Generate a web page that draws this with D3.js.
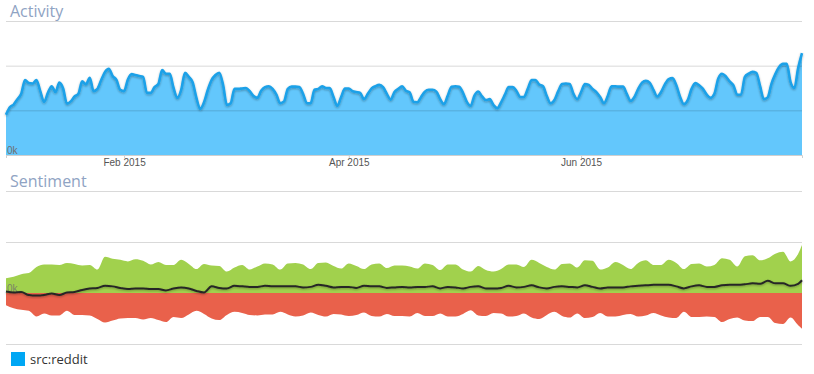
<!DOCTYPE html>
<html>
<head>
<meta charset="utf-8">
<script src="https://cdn.jsdelivr.net/npm/d3@7"></script>
<style>
    body { margin: 0; background: #fff; }
    svg { font-family: "Open Sans", sans-serif; }
    .title { fill: #8fa3c3; font-size: 16px; }
    .grid path { display: none; }
    .grid line { stroke: rgba(0, 0, 0, 0.15); }
    .grid text { fill: #6f6f6f; font-size: 10px; }
    .x-axis path, .x-axis line { stroke: #cfcfcf; }
    .x-axis text { fill: #555; font-size: 10px; }
    .legend text { fill: #333; font-size: 13px; }
</style>
</head>
<body>
<svg id="chart" width="814" height="374"></svg>
<script>
// data
var startDay = '2015-01-01';
var endDay = '2015-07-29';
var monthTicks = ['2015-02-01', '2015-04-01', '2015-06-01'];
var activityTicks = [0, 1, 2, 3];
var sentimentTicks = [-1, 0, 1, 2];
var seriesNames = ['src:reddit'];

// daily activity, in k, from Jan 1
var activity = [
    0.90, 1.07, 1.13, 1.25, 1.37, 1.68, 1.61, 1.60, 1.68, 1.43,
    1.19, 1.39, 1.54, 1.41, 1.62, 1.49, 1.15, 1.20, 1.31, 1.37,
    1.65, 1.58, 1.73, 1.43, 1.48, 1.68, 1.86, 1.93, 1.77, 1.68,
    1.46, 1.43, 1.69, 1.81, 1.79, 1.77, 1.75, 1.39, 1.39, 1.52,
    1.59, 1.90, 1.82, 1.82, 1.50, 1.28, 1.46, 1.84, 1.75, 1.63,
    1.28, 1.03, 1.18, 1.46, 1.68, 1.79, 1.84, 1.57, 1.12, 1.16,
    1.48, 1.48, 1.49, 1.50, 1.43, 1.32, 1.28, 1.44, 1.52, 1.54,
    1.48, 1.35, 1.16, 1.20, 1.48, 1.53, 1.53, 1.52, 1.37, 1.16,
    1.16, 1.46, 1.48, 1.54, 1.50, 1.50, 1.30, 1.10, 1.30, 1.49,
    1.49, 1.43, 1.41, 1.39, 1.25, 1.37, 1.49, 1.54, 1.57, 1.52,
    1.37, 1.24, 1.41, 1.48, 1.54, 1.44, 1.40, 1.19, 1.18, 1.30,
    1.42, 1.46, 1.46, 1.42, 1.25, 1.14, 1.33, 1.53, 1.54, 1.53,
    1.39, 1.19, 1.10, 1.33, 1.42, 1.31, 1.23, 1.25, 1.12, 1.05,
    1.18, 1.35, 1.52, 1.52, 1.44, 1.30, 1.30, 1.48, 1.68, 1.68,
    1.58, 1.54, 1.32, 1.16, 1.23, 1.43, 1.59, 1.60, 1.59, 1.37,
    1.25, 1.41, 1.59, 1.57, 1.48, 1.41, 1.30, 1.16, 1.32, 1.54,
    1.54, 1.53, 1.53, 1.37, 1.21, 1.30, 1.48, 1.62, 1.66, 1.62,
    1.46, 1.31, 1.41, 1.58, 1.70, 1.72, 1.56, 1.30, 1.14, 1.23,
    1.48, 1.61, 1.56, 1.48, 1.35, 1.28, 1.37, 1.71, 1.82, 1.76,
    1.65, 1.56, 1.35, 1.35, 1.75, 1.82, 1.86, 1.84, 1.54, 1.25,
    1.29, 1.60, 1.81, 1.97, 2.04, 2.04, 1.63, 1.50, 1.95, 2.28
];

// sentiment, every second day from Jan 1 plus the last day
var sentimentDays = d3.range(0, 209, 2).concat([209]);

var positive = [
    0.29, 0.32, 0.37, 0.39, 0.51, 0.56, 0.56, 0.55, 0.59, 0.57,
    0.54, 0.55, 0.46, 0.71, 0.67, 0.65, 0.62, 0.66, 0.63, 0.56,
    0.61, 0.55, 0.55, 0.65, 0.57, 0.47, 0.57, 0.54, 0.53, 0.42,
    0.50, 0.55, 0.46, 0.52, 0.58, 0.56, 0.46, 0.58, 0.59, 0.56,
    0.47, 0.59, 0.60, 0.53, 0.48, 0.58, 0.53, 0.47, 0.56, 0.58,
    0.49, 0.54, 0.54, 0.52, 0.48, 0.58, 0.55, 0.45, 0.56, 0.56,
    0.46, 0.42, 0.53, 0.45, 0.42, 0.47, 0.56, 0.56, 0.51, 0.65,
    0.59, 0.51, 0.46, 0.57, 0.58, 0.50, 0.64, 0.63, 0.46, 0.50,
    0.61, 0.55, 0.47, 0.59, 0.64, 0.55, 0.55, 0.65, 0.59, 0.47,
    0.57, 0.58, 0.52, 0.55, 0.68, 0.65, 0.52, 0.72, 0.74, 0.64,
    0.68, 0.77, 0.81, 0.62, 0.77, 0.94
];

var negative = [
    -0.24, -0.30, -0.33, -0.35, -0.46, -0.40, -0.44, -0.44, -0.35, -0.43,
    -0.43, -0.44, -0.51, -0.58, -0.54, -0.50, -0.49, -0.49, -0.52, -0.49,
    -0.53, -0.57, -0.47, -0.49, -0.42, -0.35, -0.41, -0.50, -0.53, -0.43,
    -0.37, -0.39, -0.43, -0.44, -0.42, -0.42, -0.37, -0.42, -0.46, -0.44,
    -0.38, -0.43, -0.46, -0.41, -0.42, -0.45, -0.43, -0.38, -0.45, -0.46,
    -0.41, -0.45, -0.45, -0.46, -0.39, -0.45, -0.45, -0.40, -0.46, -0.46,
    -0.41, -0.34, -0.44, -0.45, -0.39, -0.40, -0.46, -0.45, -0.40, -0.48,
    -0.51, -0.43, -0.37, -0.45, -0.48, -0.40, -0.49, -0.47, -0.39, -0.46,
    -0.46, -0.43, -0.41, -0.46, -0.44, -0.39, -0.44, -0.48, -0.49, -0.37,
    -0.47, -0.47, -0.46, -0.47, -0.57, -0.51, -0.48, -0.54, -0.55, -0.47,
    -0.47, -0.59, -0.61, -0.48, -0.63, -0.70
];

var net = [
    0.03, 0.01, 0.02, -0.04, -0.05, -0.04, -0.01, -0.04, 0.01, 0.02,
    0.06, 0.09, 0.10, 0.14, 0.13, 0.10, 0.08, 0.09, 0.09, 0.08,
    0.08, 0.05, 0.09, 0.11, 0.09, 0.04, 0.01, 0.13, 0.10, 0.09,
    0.14, 0.13, 0.12, 0.12, 0.14, 0.13, 0.13, 0.13, 0.13, 0.11,
    0.12, 0.16, 0.14, 0.11, 0.12, 0.12, 0.10, 0.14, 0.13, 0.13,
    0.10, 0.11, 0.12, 0.11, 0.12, 0.12, 0.13, 0.09, 0.12, 0.11,
    0.09, 0.12, 0.13, 0.09, 0.09, 0.10, 0.14, 0.11, 0.12, 0.15,
    0.11, 0.09, 0.12, 0.13, 0.12, 0.11, 0.15, 0.12, 0.09, 0.11,
    0.11, 0.11, 0.13, 0.14, 0.15, 0.16, 0.16, 0.16, 0.13, 0.09,
    0.13, 0.15, 0.12, 0.12, 0.15, 0.16, 0.16, 0.17, 0.19, 0.18,
    0.24, 0.19, 0.19, 0.14, 0.18, 0.25
];

var parse = d3.timeParse('%Y-%m-%d');
var start = parse(startDay);
var left = 6, right = 802;

var svg = d3.select('#chart');

var filter = svg.append('defs')
    .append('filter')
    .attr('id', 'shadow')
    .attr('x', '-5%').attr('y', '-20%')
    .attr('width', '110%').attr('height', '140%');
filter.append('feDropShadow')
    .attr('dx', 0).attr('dy', 1)
    .attr('stdDeviation', 0.8)
    .attr('flood-color', '#000')
    .attr('flood-opacity', 0.3);

var x = d3.scaleTime()
    .domain([start, parse(endDay)])
    .range([left, right]);

function dayX(i) { return x(d3.timeDay.offset(start, i)); }

function grid(g, scale) {
    g.attr('class', 'grid')
        .attr('transform', 'translate(' + left + ',0)')
        .call(d3.axisLeft(scale)
            .tickValues(scale === yA ? activityTicks : sentimentTicks)
            .tickSize(-(right - left))
            .tickFormat(function(d) { return d === 0 ? '0k' : '' })
        );
    g.selectAll('.tick text')
        .attr('x', 1)
        .attr('dy', -1.5)
        .attr('text-anchor', 'start');
}

// activity
var yA = d3.scaleLinear()
    .domain([0, 3])
    .range([155, 21]);

svg.append('text')
    .attr('class', 'title')
    .attr('x', 10)
    .attr('y', 17)
    .text('Activity');

svg.append('path')
    .datum(activity)
    .attr('fill', '#63c7fc')
    .attr('d', d3.area()
        .x(function(d, i) { return dayX(i) })
        .y0(yA(0))
        .y1(function(d) { return yA(d) })
        .curve(d3.curveMonotoneX));

svg.append('g').call(grid, yA);

svg.append('g')
    .attr('class', 'x-axis')
    .attr('transform', 'translate(0,' + yA(0) + ')')
    .call(d3.axisBottom(x)
        .tickValues(monthTicks.map(parse))
        .tickSizeInner(3)
        .tickSizeOuter(3)
        .tickPadding(1)
        .tickFormat(d3.timeFormat('%b %Y'))
    );

svg.append('path')
    .datum(activity)
    .attr('fill', 'none')
    .attr('stroke', '#1ca1e8')
    .attr('stroke-width', 2.6)
    .attr('stroke-linejoin', 'round')
    .attr('filter', 'url(#shadow)')
    .attr('d', d3.line()
        .x(function(d, i) { return dayX(i) })
        .y(function(d) { return yA(d) })
        .curve(d3.curveMonotoneX));

// sentiment
var yS = d3.scaleLinear()
    .domain([-1, 2])
    .range([344, 191]);

svg.append('text')
    .attr('class', 'title')
    .attr('x', 10)
    .attr('y', 187)
    .text('Sentiment');

function sentimentArea(values) {
    return d3.area()
        .x(function(d, i) { return dayX(sentimentDays[i]) })
        .y0(yS(0))
        .y1(function(d) { return yS(d) })
        .curve(d3.curveMonotoneX)(values);
}

svg.append('path')
    .attr('fill', '#a1d14d')
    .attr('d', sentimentArea(positive));

svg.append('path')
    .attr('fill', '#e9614b')
    .attr('d', sentimentArea(negative));

var gS = svg.append('g').call(grid, yS);
gS.selectAll('.tick')
    .filter(function(d) { return d === 0 })
    .select('line')
    .remove();
gS.selectAll('.tick text').attr('fill-opacity', 0.8);

svg.append('path')
    .datum(net)
    .attr('fill', 'none')
    .attr('stroke', '#262626')
    .attr('stroke-width', 2)
    .attr('stroke-linejoin', 'round')
    .attr('filter', 'url(#shadow)')
    .attr('d', d3.line()
        .x(function(d, i) { return dayX(sentimentDays[i]) })
        .y(function(d) { return yS(d) })
        .curve(d3.curveMonotoneX));

// legend
var legend = svg.selectAll('g.legend')
    .data(seriesNames)
    .enter()
    .append('g')
    .attr('class', 'legend')
    .attr('transform', 'translate(11,352)');

legend.append('rect')
    .attr('width', 14)
    .attr('height', 14)
    .attr('fill', '#00a7f4');

legend.append('text')
    .attr('x', 19)
    .attr('y', 12)
    .text(function(d) { return d });
</script>
</body>
</html>
